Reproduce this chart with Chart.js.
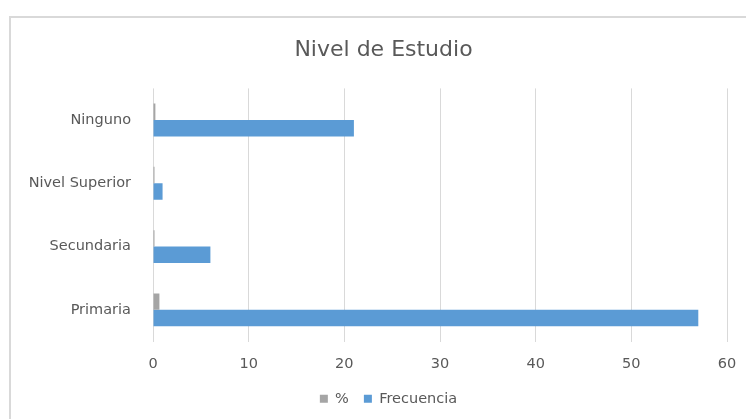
<!DOCTYPE html>
<html>
<head>
<meta charset="utf-8">
<script src="https://cdn.jsdelivr.net/npm/chart.js@4.4.1/dist/chart.umd.min.js"></script>
<style>
  html, body { margin: 0; padding: 0; background: #fff; overflow: hidden; }
  #chart { display: block; }
</style>
</head>
<body>
<canvas id="chart" width="760" height="419"></canvas>
<script>
// data
const categories = ['Ninguno', 'Nivel Superior', 'Secundaria', 'Primaria'];
const frecuencia = [21, 1, 6, 57];
const porcentaje = [0.25, 0.01, 0.07, 0.67];
const xTicks = [0, 10, 20, 30, 40, 50, 60];

const textColor = '#595959';
const gridColor = '#d9d9d9';
const fontFamily = '"DejaVu Sans", sans-serif';

// grey frame round the chart, like the Excel chart area border
const framePlugin = {
    id: 'frame',
    beforeDraw(chart) {
        const c = chart.ctx;
        c.save();
        c.fillStyle = '#fff';
        c.fillRect(0, 0, chart.width, chart.height);
        c.strokeStyle = '#d9d9d9';
        c.lineWidth = 2;
        c.beginPath();
        c.moveTo(10, chart.height);
        c.lineTo(10, 17);
        c.lineTo(chart.width, 17);
        c.stroke();
        c.restore();
    }
};

// title and legend sit a bit right of the canvas centre in the original
const shiftPlugin = {
    id: 'shift',
    afterLayout(chart) {
        const t = chart.titleBlock;
        t.left += 20;
        t.right += 20;
        const l = chart.legend;
        l.left += 25;
        l.right += 25;
        l.top -= 3;
        l.bottom -= 3;
    }
};

const ctx = document.querySelector('#chart');

new Chart(ctx, {
    type: 'bar',
    data: {
        labels: categories,
        datasets: [{
            label: '%',
            data: porcentaje,
            backgroundColor: '#a5a5a5',
            categoryPercentage: 0.52,
            barPercentage: 1,
            minBarLength: 1.5
        }, {
            label: 'Frecuencia',
            data: frecuencia,
            backgroundColor: '#5b9bd5',
            categoryPercentage: 0.52,
            barPercentage: 1
        }]
    },
    options: {
        indexAxis: 'y',
        responsive: false,
        animation: false,
        devicePixelRatio: 1,
        layout: {
            padding: { top: 28, right: 33, bottom: 0, left: 0 }
        },
        plugins: {
            title: {
                display: true,
                text: 'Nivel de Estudio',
                color: textColor,
                font: { family: fontFamily, size: 22, weight: 'normal' },
                padding: { top: 9, bottom: 25 }
            },
            legend: {
                position: 'bottom',
                labels: {
                    color: textColor,
                    font: { family: fontFamily, size: 14.5 },
                    boxWidth: 8,
                    boxHeight: 8,
                    padding: 15
                }
            },
            tooltip: { enabled: false }
        },
        scales: {
            x: {
                min: 0,
                max: 60,
                afterBuildTicks(scale) {
                    scale.ticks = xTicks.map(v => ({ value: v }));
                },
                afterFit(scale) {
                    scale.height = 38;
                },
                border: { display: false },
                grid: {
                    color: gridColor,
                    drawTicks: false
                },
                ticks: {
                    color: textColor,
                    padding: 14,
                    font: { family: fontFamily, size: 14.5 }
                }
            },
            y: {
                afterFit(scale) {
                    scale.width = 153;
                },
                border: { display: false },
                grid: {
                    display: false,
                    drawTicks: false
                },
                ticks: {
                    color: textColor,
                    padding: 22,
                    font: { family: fontFamily, size: 14.5 }
                }
            }
        }
    },
    plugins: [framePlugin, shiftPlugin]
});
</script>
</body>
</html>
